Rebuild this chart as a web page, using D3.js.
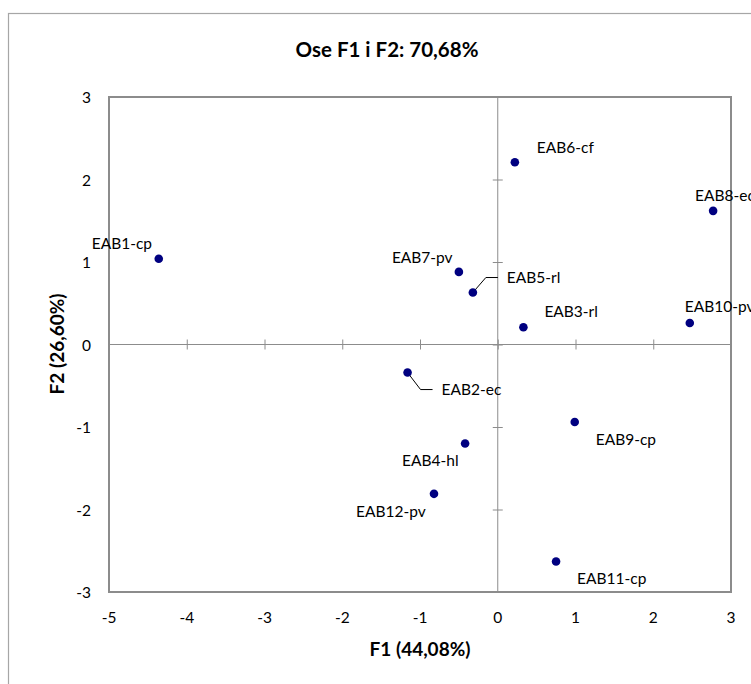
<!DOCTYPE html>
<html>
<head>
<meta charset="utf-8">
<script src="https://cdn.jsdelivr.net/npm/d3@7"></script>
<style>
  html, body { margin: 0; padding: 0; background: #fff; }
  svg { display: block; font-family: Lato, "Open Sans", sans-serif; }
</style>
</head>
<body>
<svg id="chart" width="751" height="684"></svg>
<script>
// Observation labels and their coordinates on the first two factors
const labels = ["EAB1-cp", "EAB2-ec", "EAB3-rl", "EAB4-hl", "EAB5-rl", "EAB6-cf",
                "EAB7-pv", "EAB8-ec", "EAB9-cp", "EAB10-pv", "EAB11-cp", "EAB12-pv"];
const f1 = [-4.36, -1.16, 0.33, -0.42, -0.32, 0.22, -0.50, 2.77, 0.99, 2.47, 0.75, -0.82];
const f2 = [1.04, -0.34, 0.21, -1.20, 0.63, 2.21, 0.88, 1.62, -0.94, 0.26, -2.63, -1.81];
const xTicks = [-5, -4, -3, -2, -1, 0, 1, 2, 3];
const yTicks = [-3, -2, -1, 0, 1, 2, 3];

const titleText = "Ose F1 i F2: 70,68%";
const xTitle = "F1 (44,08%)";
const yTitle = "F2 (26,60%)";

// Label placement relative to each point (dx, dy to text start / baseline),
// plus optional leader line
const labelOffsets = [
  { dx: -67, dy: -10 },
  { dx: 34, dy: 22, leader: true },
  { dx: 21, dy: -10 },
  { dx: -63, dy: 22 },
  { dx: 34, dy: -10, leader: true },
  { dx: 22, dy: -9 },
  { dx: -67, dy: -9 },
  { dx: -18, dy: -10 },
  { dx: 21, dy: 23 },
  { dx: -5, dy: -11 },
  { dx: 21, dy: 23 },
  { dx: -78, dy: 23 }
];

const svg = d3.select("#chart");

// Outer chart frame
svg.append("rect")
  .attr("x", 8.5).attr("y", 13.5)
  .attr("width", 800).attr("height", 800)
  .attr("fill", "none").attr("stroke", "#a6a6a6").attr("stroke-width", 1.2);

const plot = { left: 109, right: 731, top: 97, bottom: 592 };

const x = d3.scaleLinear().domain([-5, 3]).range([plot.left, plot.right]);
const y = d3.scaleLinear().domain([-3, 3]).range([plot.bottom, plot.top]);

// Plot area border
svg.append("rect")
  .attr("x", plot.left).attr("y", plot.top)
  .attr("width", plot.right - plot.left).attr("height", plot.bottom - plot.top)
  .attr("fill", "none").attr("stroke", "#8c8c8c").attr("stroke-width", 2);

// Axes crossing at the origin, ticks crossing the line
const axisColor = "#8c8c8c";
const xAxis = svg.append("g").attr("transform", `translate(0,${y(0)})`)
  .call(d3.axisBottom(x).tickValues(xTicks.filter(v => v > -5 && v < 3)).tickSize(5).tickFormat(""));
xAxis.select(".domain").remove();
xAxis.selectAll(".tick line").attr("y1", -5).attr("stroke", axisColor);
svg.append("line")
  .attr("x1", plot.left).attr("x2", plot.right)
  .attr("y1", y(0)).attr("y2", y(0))
  .attr("stroke", axisColor).attr("stroke-width", 1);

const yAxis = svg.append("g").attr("transform", `translate(${x(0)},0)`)
  .call(d3.axisLeft(y).tickValues(yTicks.filter(v => v > -3 && v < 3)).tickSize(5).tickFormat(""));
yAxis.select(".domain").remove();
yAxis.selectAll(".tick line").attr("x1", 5).attr("stroke", axisColor);
svg.append("line")
  .attr("x1", x(0)).attr("x2", x(0))
  .attr("y1", plot.top).attr("y2", plot.bottom)
  .attr("stroke", axisColor).attr("stroke-width", 1);

// Tick labels along the frame
svg.append("g").selectAll("text").data(xTicks).join("text")
  .attr("x", d => x(d)).attr("y", 617)
  .attr("text-anchor", "middle").attr("dominant-baseline", "central")
  .attr("font-size", 15.5).attr("fill", "#000")
  .text(d => d);

svg.append("g").selectAll("text").data(yTicks).join("text")
  .attr("x", 91).attr("y", d => y(d))
  .attr("text-anchor", "end").attr("dominant-baseline", "central")
  .attr("font-size", 15.5).attr("fill", "#000")
  .text(d => d);

// Titles
svg.append("text")
  .attr("x", 387).attr("y", 57)
  .attr("text-anchor", "middle").attr("font-weight", "bold")
  .attr("font-size", 20.5).attr("fill", "#000")
  .text(titleText);

svg.append("text")
  .attr("x", 420).attr("y", 648)
  .attr("text-anchor", "middle").attr("dominant-baseline", "central")
  .attr("font-weight", "bold").attr("font-size", 19).attr("fill", "#000")
  .text(xTitle);

svg.append("text")
  .attr("transform", `translate(56,344) rotate(-90)`)
  .attr("text-anchor", "middle").attr("dominant-baseline", "central")
  .attr("font-weight", "bold").attr("font-size", 19).attr("fill", "#000")
  .text(yTitle);

// Points
const data = labels.map((name, i) => ({ name, f1: f1[i], f2: f2[i], off: labelOffsets[i] }));

// Leader lines for labels set away from their point
svg.append("g").selectAll("path").data(data.filter(d => d.off.leader)).join("path")
  .attr("d", d => {
    const px = x(d.f1), py = y(d.f2);
    const ly = py + d.off.dy - 5;
    const kx = px + 13;
    return `M${px},${py}L${kx},${ly}L${px + d.off.dx - 9},${ly}`;
  })
  .attr("fill", "none").attr("stroke", "#000").attr("stroke-width", 1);

svg.append("g").selectAll("circle").data(data).join("circle")
  .attr("cx", d => x(d.f1)).attr("cy", d => y(d.f2))
  .attr("r", 4.3).attr("fill", "#000080");

svg.append("g").selectAll("text").data(data).join("text")
  .attr("x", d => x(d.f1) + d.off.dx).attr("y", d => y(d.f2) + d.off.dy)
  .attr("font-size", 15.5).attr("fill", "#000")
  .text(d => d.name);
</script>
</body>
</html>
